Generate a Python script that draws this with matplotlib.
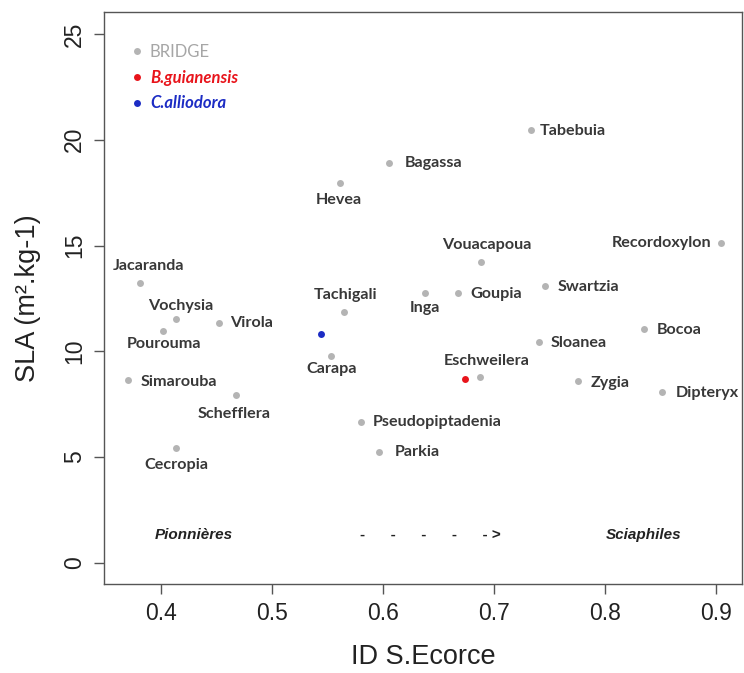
import matplotlib
matplotlib.use("Agg")
import matplotlib.pyplot as plt
from matplotlib.lines import Line2D

# BRIDGE genera: ID S.Ecorce vs SLA
genera = ["Jacaranda", "Vochysia", "Pourouma", "Virola", "Simarouba", "Schefflera",
          "Cecropia", "Hevea", "Bagassa", "Tabebuia", "Vouacapoua", "Tachigali",
          "Inga", "Goupia", "Swartzia", "Recordoxylon", "Sloanea", "Bocoa",
          "Carapa", "Eschweilera", "Pseudopiptadenia", "Parkia", "Zygia", "Dipteryx"]
id_ecorce = [0.381, 0.413, 0.402, 0.452, 0.370, 0.467,
             0.413, 0.561, 0.605, 0.733, 0.688, 0.565,
             0.638, 0.668, 0.746, 0.905, 0.741, 0.835,
             0.553, 0.687, 0.580, 0.596, 0.776, 0.852]
sla = [13.22, 11.52, 10.98, 11.36, 8.65, 7.94,
       5.45, 17.97, 18.89, 20.46, 14.24, 11.85,
       12.75, 12.75, 13.10, 15.11, 10.43, 11.04,
       9.78, 8.80, 6.68, 5.26, 8.62, 8.10]

# the two study species
species = ["B.guianensis", "C.alliodora"]
species_x = [0.674, 0.544]
species_y = [8.68, 10.82]
species_col = ["#e8141b", "#1c2cc4"]

# label placement: (dx px, dy px, ha)
label_pos = {
    "Jacaranda": (8, 17, "center"), "Vochysia": (5, 13, "center"),
    "Pourouma": (1, -13, "center"), "Virola": (11, 0, "left"),
    "Simarouba": (13, -2, "left"), "Schefflera": (-1, -19, "center"),
    "Cecropia": (1, -17, "center"), "Hevea": (-1, -17, "center"),
    "Bagassa": (16, 0, "left"), "Tabebuia": (9, -1, "left"),
    "Vouacapoua": (6, 17, "center"), "Tachigali": (1, 17, "center"),
    "Inga": (0, -15, "center"), "Goupia": (12, -1, "left"),
    "Swartzia": (13, -1, "left"), "Recordoxylon": (-10, 0, "right"),
    "Sloanea": (11, -1, "left"), "Bocoa": (13, -1, "left"),
    "Carapa": (1, -13, "center"), "Eschweilera": (7, 16, "center"),
    "Pseudopiptadenia": (12, 0, "left"), "Parkia": (16, 0, "left"),
    "Zygia": (12, -3, "left"), "Dipteryx": (13, -2, "left"),
}

GREY = "#b4b4b4"
LABEL_COL = "#383838"
AX_COL = "#555555"

fig = plt.figure(figsize=(7.44, 6.73), dpi=100)
ax = fig.add_axes([104 / 744, 89 / 673, 638 / 744, 572 / 673])

ax.plot(id_ecorce, sla, "o", color=GREY, ms=5, mec="none")
for sx, sy, c in zip(species_x, species_y, species_col):
    ax.plot(sx, sy, "o", color=c, ms=5, mec="none")

px = 0.72  # pixels -> points
for g, x, y in zip(genera, id_ecorce, sla):
    dx, dy, ha = label_pos[g]
    ax.annotate(g, (x, y), xytext=(dx * px, dy * px), textcoords="offset points",
                ha=ha, va="center", fontsize=11.6, fontweight="bold",
                family="Lato", color=LABEL_COL)

# gradient annotation along the bottom
ax.text(0.429, 1.32, "Pionnières", ha="center", va="center", fontsize=11,
        fontweight="bold", style="italic", family="Liberation Sans", color="#222222")
ax.text(0.835, 1.32, "Sciaphiles", ha="center", va="center", fontsize=11,
        fontweight="bold", style="italic", family="Liberation Sans", color="#222222")
ax.text(0.643, 1.32, "-      -      -      -      - >", ha="center", va="center",
        fontsize=11, fontweight="bold", family="Liberation Sans", color="#222222")

handles = [Line2D([], [], ls="none", marker="o", ms=5, mec="none", color=GREY)]
handles += [Line2D([], [], ls="none", marker="o", ms=5, mec="none", color=c)
            for c in species_col]
leg = ax.legend(handles, ["BRIDGE"] + species, loc="upper left",
                bbox_to_anchor=(0.038, 0.944), frameon=False, borderpad=0,
                borderaxespad=0, handlelength=1.0, handletextpad=0.3,
                labelspacing=0.58, prop={"family": "Lato", "size": 12})
txt_cols = ["#a6a6a6"] + species_col
for t, c, i in zip(leg.get_texts(), txt_cols, range(3)):
    t.set_color(c)
    if i > 0:
        t.set_fontweight("bold")
        t.set_fontstyle("italic")

ax.set_xlim(0.3484, 0.9237)
ax.set_ylim(-1.0, 26.04)
ax.set_xticks([0.4, 0.5, 0.6, 0.7, 0.8, 0.9])
ax.set_yticks([0, 5, 10, 15, 20, 25])
ax.set_xticklabels(["0.4", "0.5", "0.6", "0.7", "0.8", "0.9"])
for s in ax.spines.values():
    s.set_color(AX_COL)
    s.set_linewidth(1.0)
ax.tick_params(direction="out", length=7, width=1.0, color=AX_COL,
               labelsize=16.5, labelcolor="#222222", pad=6)
for lab in ax.get_xticklabels() + ax.get_yticklabels():
    lab.set_family("Liberation Sans")
for lab in ax.get_yticklabels():
    lab.set_rotation(90)
    lab.set_va("center")

ax.set_xlabel("ID S.Ecorce", fontsize=19.5, family="Liberation Sans",
              color="#222222", labelpad=14)
ax.set_ylabel("SLA (m².kg-1)", fontsize=19.5, family="Liberation Sans",
              color="#222222", labelpad=16)

fig.savefig("out.png", dpi=100, facecolor="white")
